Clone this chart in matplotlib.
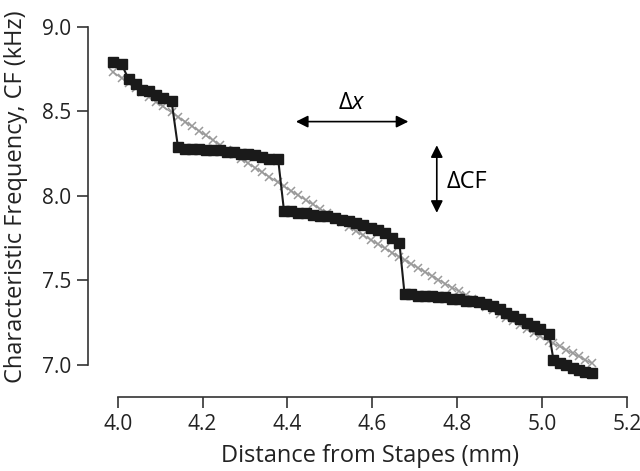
import matplotlib
matplotlib.use("Agg")
import matplotlib.pyplot as plt

plt.rcParams['font.family'] = ['Open Sans', 'DejaVu Sans']
plt.rcParams['mathtext.fontset'] = 'custom'
plt.rcParams['mathtext.rm'] = 'Open Sans'
plt.rcParams['mathtext.it'] = 'Open Sans:italic'

# distance from stapes (mm) of each measured point
distance = [
    3.988, 4.009, 4.026, 4.042, 4.057, 4.073, 4.090, 4.106, 4.127,
    4.142, 4.159, 4.175, 4.192, 4.208, 4.225, 4.241, 4.258, 4.274, 4.291,
    4.307, 4.324, 4.340, 4.357, 4.378,
    4.392, 4.409, 4.426, 4.443, 4.460, 4.477, 4.494, 4.511, 4.528, 4.545,
    4.562, 4.579, 4.596, 4.613, 4.630, 4.647, 4.664,
    4.676, 4.692, 4.708, 4.724, 4.740, 4.756, 4.772, 4.788, 4.804, 4.820,
    4.836, 4.852, 4.868, 4.884, 4.900, 4.916, 4.932, 4.948, 4.964, 4.980,
    4.996, 5.017,
    5.027, 5.042, 5.057, 5.072, 5.087, 5.102, 5.117,
]

# characteristic frequency (kHz), staircase
cf = [
    8.79, 8.78, 8.69, 8.66, 8.63, 8.62, 8.60, 8.58, 8.56,
    8.29, 8.28, 8.28, 8.28, 8.27, 8.27, 8.27, 8.26, 8.26, 8.25,
    8.25, 8.24, 8.23, 8.22, 8.22,
    7.91, 7.91, 7.90, 7.90, 7.89, 7.88, 7.88, 7.87, 7.86, 7.85,
    7.84, 7.83, 7.81, 7.80, 7.78, 7.75, 7.72,
    7.42, 7.42, 7.41, 7.41, 7.41, 7.40, 7.40, 7.39, 7.39, 7.38,
    7.38, 7.37, 7.36, 7.35, 7.33, 7.31, 7.29, 7.27, 7.25, 7.23,
    7.21, 7.18,
    7.03, 7.01, 7.00, 6.98, 6.97, 6.96, 6.95,
]

# smooth place-frequency map (kHz)
cf_map = [
    8.735, 8.698, 8.668, 8.640, 8.614, 8.587, 8.558, 8.530, 8.494,
    8.469, 8.440, 8.413, 8.384, 8.358, 8.329, 8.303, 8.274, 8.248, 8.220,
    8.194, 8.167, 8.141, 8.113, 8.080,
    8.057, 8.030, 8.003, 7.976, 7.950, 7.923, 7.897, 7.870, 7.844, 7.818,
    7.792, 7.766, 7.741, 7.715, 7.690, 7.664, 7.639,
    7.621, 7.598, 7.574, 7.551, 7.528, 7.504, 7.481, 7.458, 7.436, 7.413,
    7.390, 7.368, 7.345, 7.323, 7.301, 7.279, 7.257, 7.235, 7.213, 7.191,
    7.170, 7.142,
    7.128, 7.109, 7.089, 7.069, 7.050, 7.030, 7.010,
]

xticks = [4.0, 4.2, 4.4, 4.6, 4.8, 5.0, 5.2]
yticks = [7.0, 7.5, 8.0, 8.5, 9.0]

fig = plt.figure(figsize=(6.4, 4.71), dpi=100)
ax = fig.add_axes([0.1375, 0.1571, 0.842, 0.7856])

ax.plot(distance, cf_map, color='#9a9a9a', lw=1.0, marker='x', ms=6, mew=1.1, zorder=2)
ax.plot(distance, cf, color='#1a1a1a', lw=1.5, marker='s', ms=7.5, zorder=3)

ax.set_xlim(3.93, 5.2)
ax.set_ylim(6.81, 9.0)

for side in ['top', 'right']:
    ax.spines[side].set_visible(False)
for side in ['left', 'bottom']:
    ax.spines[side].set_color('#333333')
    ax.spines[side].set_linewidth(1.2)
ax.spines['left'].set_bounds(7.0, 9.0)
ax.spines['bottom'].set_bounds(4.0, 5.2)

ax.set_xticks(xticks)
ax.set_xticklabels([f'{t:.1f}' for t in xticks])
ax.set_yticks(yticks)
ax.set_yticklabels([f'{t:.1f}' for t in yticks])
ax.tick_params(direction='out', length=8, width=1.2, color='#333333',
               labelsize=15, labelcolor='#222222', pad=4)

ax.set_xlabel('Distance from Stapes (mm)', fontsize=17, color='#222222')
ax.set_ylabel('Characteristic Frequency, CF (kHz)', fontsize=17, color='#222222')
ax.xaxis.set_label_coords(0.523, -0.128)
ax.yaxis.set_label_coords(-0.111, 0.54)

# delta x arrow
ax.annotate('', xy=(4.42, 8.44), xytext=(4.685, 8.44),
            arrowprops=dict(arrowstyle='<|-|>', color='black', lw=1.2,
                            mutation_scale=18, shrinkA=0, shrinkB=0))
ax.text(4.552, 8.48, r'$\mathrm{\Delta}x$', fontsize=17, ha='center', va='bottom')
# delta CF arrow
ax.annotate('', xy=(4.752, 8.30), xytext=(4.752, 7.90),
            arrowprops=dict(arrowstyle='<|-|>', color='black', lw=1.2,
                            mutation_scale=18, shrinkA=0, shrinkB=0))
ax.text(4.775, 8.08, '\u0394CF', fontsize=17, ha='left', va='center')

fig.savefig('out.png', dpi=100)
